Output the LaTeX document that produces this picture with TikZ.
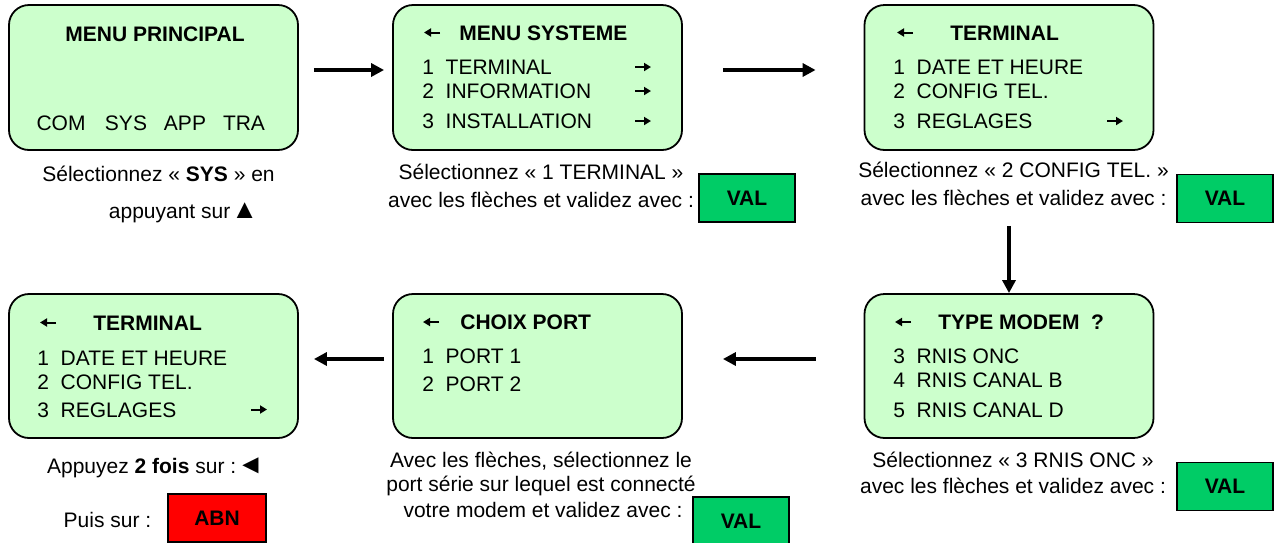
\documentclass[tikz,border=0pt]{standalone}
\usepackage{fontspec}
\setmainfont{Liberation Sans}
\usepackage{tikz}
\usetikzlibrary{arrows.meta}
\definecolor{screengreen}{RGB}{204, 255, 204}
\definecolor{valgreen}{RGB}{0, 204, 102}
\definecolor{abnred}{RGB}{255, 0, 0}
\tikzset{
  screen/.style={draw, line width=0.9pt, fill=screengreen, rounded corners=10pt,
    minimum width=144.5pt, minimum height=72.5pt, inner sep=0pt},
  scrline/.style={anchor=base west, inner sep=0pt},
  captext/.style={anchor=base, inner sep=0pt},
  keybox/.style={draw, line width=0.9pt, minimum width=48pt, minimum height=24pt,
    inner sep=0pt, font=\bfseries},
  flow/.style={line width=1.6pt, -{Triangle[length=6.5pt,width=6.5pt]}},
  tick/.style={line width=1pt, -{Triangle[length=3.5pt,width=4pt]}}
}
\newcommand{\bigsym}[1]{{\fontsize{13.5}{14}\selectfont #1}}
\begin{document}
\fontsize{10.5}{12.6}\selectfont
\begin{tikzpicture}[x=0.5pt,y=-0.5pt]
\useasboundingbox (0,0) rectangle (1276,542);
\node[screen] (princ) at (153.5,77.5) {};
\node[screen] (sys) at (537.5,77.5) {};
\node[screen] (term) at (1009,77.5) {};
\node[screen,minimum height=72pt] (term2) at (153.5,366) {};
\node[screen,minimum height=72pt] (port) at (537.5,366) {};
\node[screen,minimum height=72pt] (modem) at (1009,366) {};

\node[captext,font=\bfseries] (princT) at (155,41) {MENU PRINCIPAL};
\node[captext] (com) at (61,130) {COM};
\node[captext] (sysK) at (126,130) {SYS};
\node[captext] (app) at (185,130) {APP};
\node[captext] (tra) at (244,130) {TRA};

\draw[tick] (440,32.5) -- (424,32.5);
\node[scrline,font=\bfseries] (sysT) at (459,40) {MENU SYSTEME};
\node[scrline] (sys1) at (422,74) {1\ \ TERMINAL};
\node[scrline] (sys2) at (422,98) {2\ \ INFORMATION};
\node[scrline] (sys3) at (422,128) {3\ \ INSTALLATION};
\foreach \y in {67,91,121}
  \draw[tick] (635,\y) -- (651,\y);

\draw[tick] (913,32.5) -- (897,32.5);
\node[scrline,font=\bfseries] (termT) at (950,40) {TERMINAL};
\node[scrline] (term1) at (893,74) {1\ \ DATE ET HEURE};
\node[scrline] (term2a) at (893,98) {2\ \ CONFIG TEL.};
\node[scrline] (term3) at (893,128) {3\ \ REGLAGES};
\draw[tick] (1107,121) -- (1123,121);

\draw[tick] (56,322.5) -- (40,322.5);
\node[scrline,font=\bfseries] (tbT) at (93,330) {TERMINAL};
\node[scrline] (tb1) at (37,365) {1\ \ DATE ET HEURE};
\node[scrline] (tb2) at (37,389) {2\ \ CONFIG TEL.};
\node[scrline] (tb3) at (37,417) {3\ \ REGLAGES};
\draw[tick] (251,409.5) -- (267,409.5);

\draw[tick] (439,322) -- (423,322);
\node[scrline,font=\bfseries] (portT) at (460,329) {CHOIX PORT};
\node[scrline] (port1) at (422,363) {1\ \ PORT 1};
\node[scrline] (port2) at (422,391) {2\ \ PORT 2};

\draw[tick] (911,322) -- (895,322);
\node[scrline,font=\bfseries] (modT) at (938,329) {TYPE MODEM\ \ ?};
\node[scrline] (mod3) at (893,363) {3\ \ RNIS ONC};
\node[scrline] (mod4) at (893,387) {4\ \ RNIS CANAL B};
\node[scrline] (mod5) at (893,417) {5\ \ RNIS CANAL D};

\node[captext] (capA1) at (158.5,181) {Sélectionnez « \textbf{SYS} » en};
\node[captext] (capA2) at (181,218) {appuyant sur\kern0.5pt\bigsym{▲}\kern-2.5pt};
\node[captext] (capB1) at (541,179) {Sélectionnez « 1 TERMINAL »};
\node[captext] (capB2) at (541,207) {avec les flèches et validez avec :};
\node[keybox,fill=valgreen] (valB) at (747,198) {VAL};
\node[captext] (capC1) at (1013.5,177) {Sélectionnez « 2 CONFIG TEL. »};
\node[captext] (capC2) at (1013.5,205) {avec les flèches et validez avec :};
\node[keybox,fill=valgreen] (valC) at (1225,198.5) {VAL};
\node[captext] (capD1) at (153,473) {Appuyez \textbf{2 fois} sur :\kern0.5pt\bigsym{◄}\kern-2.5pt};
\node[captext] (capD2) at (107.5,527) {Puis sur :};
\node[keybox,fill=abnred,minimum width=49pt] (abn) at (217,518) {ABN};
\node[captext] (capE1) at (541,467) {Avec les flèches, sélectionnez le};
\node[captext] (capE2) at (541,491) {port série sur lequel est connecté};
\node[captext] (capE3) at (543,517) {votre modem et validez avec :};
\node[keybox,fill=valgreen] (valE) at (741,521) {VAL};
\node[captext] (capF1) at (1013,467) {Sélectionnez « 3 RNIS ONC »};
\node[captext] (capF2) at (1013,493) {avec les flèches et validez avec :};
\node[keybox,fill=valgreen] (valF) at (1225,486.5) {VAL};

\draw[flow] ([shift={(15,-7.5)}]princ.east) -- ([shift={(-8,-7.5)}]sys.west);
\draw[flow] ([shift={(40,-7.5)}]sys.east) -- ([shift={(-48,-7.5)}]term.west);
\draw[flow] ([yshift=-37.5pt]term.south) -- (modem.north);
\draw[flow] ([shift={(-48,-7)}]modem.west) -- ([shift={(40,-7)}]port.east);
\draw[flow] ([shift={(-8,-7)}]port.west) -- ([shift={(15,-7)}]term2.east);
\end{tikzpicture}
\end{document}
